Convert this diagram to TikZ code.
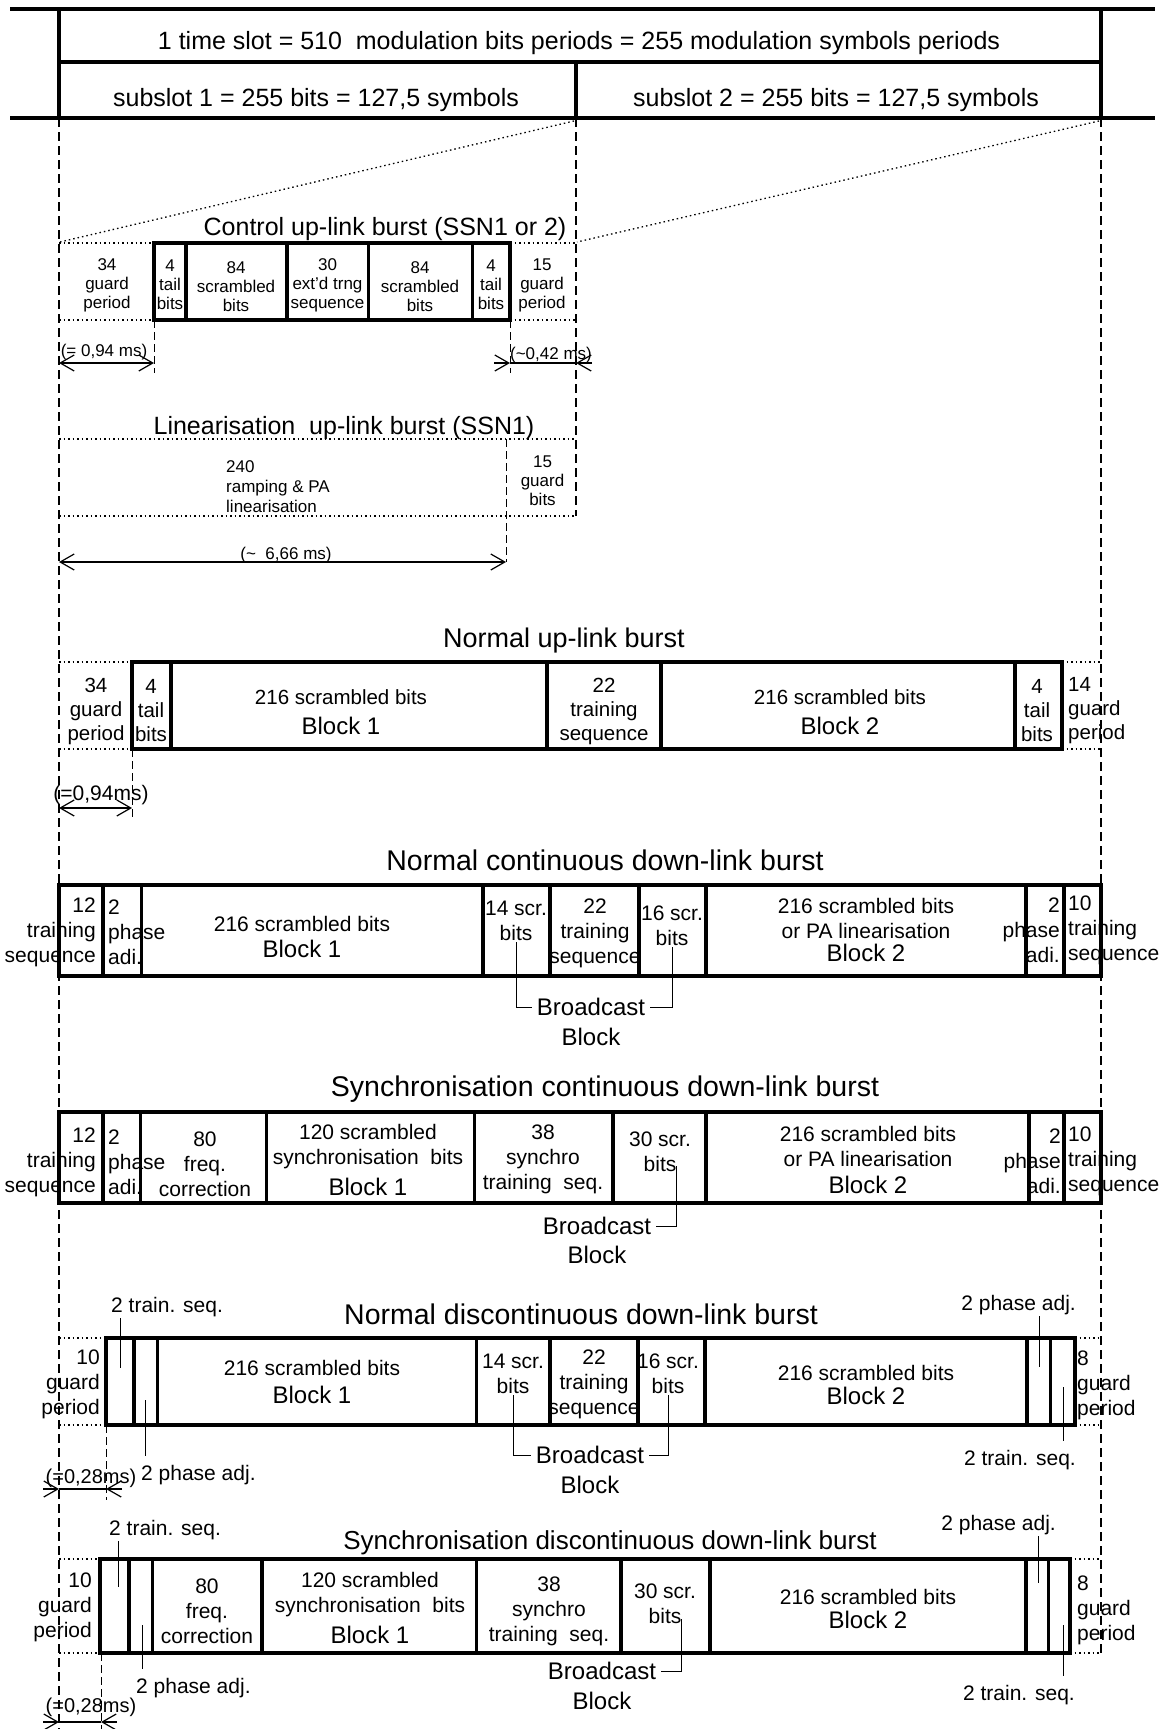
\documentclass[tikz,border=0pt]{standalone}
\usepackage{fontspec}
\setmainfont{Liberation Sans}
\usetikzlibrary{arrows.meta}

\tikzset{
  wall/.style={line width=3.5pt},
  rail/.style={line width=4pt},
  guide/.style={line width=1.3pt, dash pattern=on 9pt off 5pt},
  ext/.style={line width=1pt, dash pattern=on 8pt off 4pt},
  guard/.style={line width=1.3pt, dash pattern=on 1.5pt off 3pt},
  lead/.style={line width=1pt},
  dim/.style={line width=1.2pt},
  dimtip/.tip={Straight Barb[length=14pt, width=16pt]},
  txt/.style={inner sep=1pt, align=center},
  tx/.style={txt, font=\fontsize{21}{25}\selectfont},
  txs/.style={txt, font=\fontsize{17}{19}\selectfont},
  txu/.style={txt, font=\fontsize{20.5}{24}\selectfont},
  blk/.style={txt, font=\fontsize{24}{28}\selectfont},
  ttl/.style={txt, font=\fontsize{28.5}{32}\selectfont},
  big/.style={txt, font=\fontsize{25}{30}\selectfont},
  bcs/.style={inner sep=5pt, font=\fontsize{24}{28}\selectfont},
}

\begin{document}
\begin{tikzpicture}[x=1pt, y=-1pt]
    \useasboundingbox (0,0) rectangle (1164,1729);

    % time slot / subslots
    \draw[rail] (10,9) -- (1155,9);
    \draw[rail] (10,118) -- (1155,118);
    \draw[rail] (59,9) -- (59,118);
    \draw[rail] (1101,9) -- (1101,118);
    \draw[rail] (59,62) -- (1101,62);
    \draw[rail] (576,62) -- (576,118);
    \node[big] (slot) at (579,43) {1 time slot = 510\ \ modulation bits periods = 255 modulation symbols periods};
    \node[big] (sub1) at (316,100) {subslot 1 = 255 bits = 127,5 symbols};
    \node[big] (sub2) at (836,100) {subslot 2 = 255 bits = 127,5 symbols};

    \draw[guide] (59,118) -- (59,1729);
    \draw[guide] (576,118) -- (576,516);
    \draw[guide] (1101,118) -- (1101,1653);
    \draw[guard] (574,121) -- (60,242);
    \draw[guard] (1099,121) -- (577,242);

    % control up-link burst
    \node[big] (cttl) at (385,229) {Control up-link burst (SSN1 or 2)};
    \draw[guard] (59,243) -- (154,243) (59,320) -- (154,320) (510,243) -- (576,243) (510,320) -- (576,320);
    \draw[wall] (154,243) rectangle (510,320);
    \foreach \x in {186,287,368.5,472.5} \draw[wall] (\x,243) -- (\x,320);
    \node[txs] (c34) at (107,285) {34\\guard\\period};
    \node[txs] (c4a) at (170,285) {4\\tail\\bits};
    \node[txs] (c84a) at (236,287) {84\\scrambled\\bits};
    \node[txs] (c30) at (327.5,285) {30\\ext'd trng\\sequence};
    \node[txs] (c84b) at (420,287) {84\\scrambled\\bits};
    \node[txs] (c4b) at (491,285) {4\\tail\\bits};
    \node[txs] (c15) at (542,285) {15\\guard\\period};
    \draw[ext] (154,320) -- (154,373);
    \draw[ext] (510,320) -- (510,373);
    \coordinate (cd1) at (59,363);
    \coordinate (cd2) at (154,363);
    \coordinate (cd3) at (510,363);
    \coordinate (cd4) at (576,363);
    \draw[dim, dimtip-dimtip] (cd1) -- (cd2);
    \node[txs] (cms1) at (104,352) {(= 0,94 ms)};
    \draw[dim] (cd3) -- (cd4);
    \draw[dim, -dimtip] ([xshift=-16pt]cd3) -- (cd3);
    \draw[dim, -dimtip] ([xshift=16pt]cd4) -- (cd4);
    \node[txs] (cms2) at (551,355) {(\textasciitilde 0,42 ms)};

    % linearisation up-link burst
    \node[big] (lttl) at (344,428) {Linearisation\ \ up-link burst (SSN1)};
    \draw[guard] (59,439) -- (576,439) (59,516) -- (576,516);
    \draw[ext] (506,439) -- (506,562);
    \node[txs, align=left, anchor=west, font=\fontsize{17}{20}\selectfont] (l240) at (225,487) {240\\ramping \& PA\\linearisation};
    \node[txs] (l15) at (542.5,481) {15\\guard\\bits};
    \coordinate (ld1) at (59,562);
    \coordinate (ld2) at (506,562);
    \draw[dim, dimtip-dimtip] (ld1) -- (ld2);
    \node[txs, anchor=base] (lms) at (286,559) {(\textasciitilde\ \ 6,66 ms)};

    % normal up-link burst
    \node[ttl, font=\fontsize{27}{32}\selectfont] (nuttl) at (564,641) {Normal up-link burst};
    \draw[guard] (59,662) -- (132,662) (59,749) -- (132,749) (1062,662) -- (1101,662) (1062,749) -- (1101,749);
    \draw[wall] (132,662) rectangle (1062,749);
    \foreach \x in {171,547,661,1015} \draw[wall] (\x,662) -- (\x,749);
    \node[txu] (nu34) at (96,711) {34\\guard\\period};
    \node[txu] (nu4a) at (151,711) {4\\tail\\bits};
    \node[txu] (nu216a) at (341,697) {216 scrambled bits};
    \node[blk] (nub1) at (341,726) {Block 1};
    \node[txu] (nu22) at (604,711) {22\\training\\sequence};
    \node[txu] (nu216b) at (840,697) {216 scrambled bits};
    \node[blk] (nub2) at (840,726) {Block 2};
    \node[txu] (nu4b) at (1037,711) {4\\tail\\bits};
    \node[txu, align=left, anchor=west] (nu14) at (1067,711) {14\\guard\\period};
    \draw[ext] (132,749) -- (132,820);
    \coordinate (nd1) at (59,808);
    \coordinate (nd2) at (132,808);
    \draw[dim, dimtip-dimtip] (nd1) -- (nd2);
    \node[tx] (nums) at (101,795) {(=0,94ms)};

    % normal continuous down-link burst
    \node[ttl] (ncttl) at (605,860) {Normal continuous down-link burst};
    \draw[wall] (59,885) rectangle (1101,976);
    \foreach \x in {103,141.5,483,550,639,706,1026,1064} \draw[wall] (\x,885) -- (\x,976);
    \node[tx, align=right, anchor=east] (nc12) at (97,932) {12\\training\\sequence};
    \node[tx, align=left, anchor=west] (nc2a) at (107,932) {2\\phase\\adi.};
    \node[tx] (nc216a) at (302,924) {216 scrambled bits};
    \node[blk] (ncb1) at (302,949) {Block 1};
    \node[tx] (nc14) at (516,921) {14 scr.\\bits};
    \node[tx] (nc22) at (595,933) {22\\training\\sequence};
    \node[tx] (nc16) at (672,926) {16 scr.\\bits};
    \node[tx] (nc216b) at (866,918) {216 scrambled bits\\or PA linearisation};
    \node[blk] (ncb2) at (866,953) {Block 2};
    \node[tx, align=right, anchor=east] (nc2b) at (1061,930) {2\\phase\\adi.};
    \node[tx, align=left, anchor=west] (nc10) at (1067,930) {10\\training\\sequence};
    \node[bcs] (ncbc) at (591,1007) {Broadcast};
    \node[bcs] (ncbk) at (591,1037) {Block};
    \draw[lead] (nc14.south) |- (ncbc.west);
    \draw[lead] (nc16.south) |- (ncbc.east);

    % synchronisation continuous down-link burst
    \node[ttl] (scttl) at (605,1089) {Synchronisation continuous down-link burst};
    \draw[wall] (59,1112) rectangle (1101,1203);
    \foreach \x in {103,140.5,266.5,474.5,613,706,1029,1064} \draw[wall] (\x,1112) -- (\x,1203);
    \node[tx, align=right, anchor=east] (sc12) at (97,1162) {12\\training\\sequence};
    \node[tx, align=left, anchor=west] (sc2a) at (107,1162) {2\\phase\\adi.};
    \node[tx] (sc80) at (205,1164) {80\\freq.\\correction};
    \node[tx] (sc120) at (368,1147) {120 scrambled\\synchronisation\ \ bits};
    \node[blk] (scb1) at (368,1187) {Block 1};
    \node[tx] (sc38) at (543,1159) {38\\synchro\\training\ \ seq.};
    \node[tx] (sc30) at (660,1152) {30 scr.\\bits};
    \node[tx] (sc216) at (868,1146) {216 scrambled bits\\or PA linearisation};
    \node[blk] (scb2) at (868,1185) {Block 2};
    \node[tx, align=right, anchor=east] (sc2b) at (1062,1161) {2\\phase\\adi.};
    \node[tx, align=left, anchor=west] (sc10) at (1067,1161) {10\\training\\sequence};
    \node[bcs] (scbc) at (597,1226) {Broadcast};
    \node[bcs] (scbk) at (597,1255) {Block};
    \coordinate (sc30l) at (676,1166);
    \draw[lead] (sc30l) |- (scbc.east);

    % normal discontinuous down-link burst
    \node[ttl] (ndttl) at (581,1314) {Normal discontinuous down-link burst};
    \draw[guard] (59,1338) -- (106,1338) (59,1425) -- (106,1425) (1075,1338) -- (1101,1338) (1075,1425) -- (1101,1425);
    \draw[wall] (106,1338) rectangle (1075,1425);
    \foreach \x in {134,157.5,476.5,550,638,705,1027,1050.5} \draw[wall] (\x,1338) -- (\x,1425);
    \node[tx, align=right, anchor=east] (nd10) at (101,1384) {10\\guard\\period};
    \node[tx, anchor=west] (ndtrA) at (110,1307) {2 train. seq.};
    \coordinate (ndtrAe) at (120,1368);
    \draw[lead] (ndtrAe |- ndtrA.south) -- (ndtrAe);
    \node[tx, anchor=west] (ndpaA) at (140,1475) {2 phase adj.};
    \coordinate (ndpaAe) at (145.5,1400);
    \draw[lead, shorten >=8pt] (ndpaAe) -- (ndpaAe |- ndpaA.north);
    \node[tx] (nd216a) at (312,1368) {216 scrambled bits};
    \node[blk] (ndb1) at (312,1395) {Block 1};
    \node[tx] (nd14) at (513,1374) {14 scr.\\bits};
    \node[tx] (nd22) at (594,1384) {22\\training\\sequence};
    \node[tx] (nd16) at (668,1374) {16 scr.\\bits};
    \node[tx] (nd216b) at (866,1373) {216 scrambled bits};
    \node[blk] (ndb2) at (866,1396) {Block 2};
    \node[tx, anchor=east] (ndpaB) at (1077,1305) {2 phase adj.};
    \coordinate (ndpaBe) at (1039,1367);
    \draw[lead] (ndpaBe |- ndpaB.south) -- (ndpaBe);
    \node[tx, anchor=east] (ndtrB) at (1077,1460) {2 train. seq.};
    \coordinate (ndtrBe) at (1063,1387);
    \draw[lead, shorten >=8pt] (ndtrBe) -- (ndtrBe |- ndtrB.north);
    \node[tx, align=left, anchor=west] (nd8) at (1076,1385) {8\\guard\\period};
    \node[bcs] (ndbc) at (590,1455) {Broadcast};
    \node[bcs] (ndbk) at (590,1485) {Block};
    \draw[lead] (nd14.south) |- (ndbc.west);
    \draw[lead] (nd16.south) |- (ndbc.east);
    \draw[ext] (106,1425) -- (106,1500);
    \coordinate (ndd1) at (59,1489);
    \coordinate (ndd2) at (106,1489);
    \draw[dim] (ndd1) -- (ndd2);
    \draw[dim, -dimtip] ([xshift=-16pt]ndd1) -- (ndd1);
    \draw[dim, -dimtip] ([xshift=16pt]ndd2) -- (ndd2);
    \node[tx, font=\fontsize{20}{24}\selectfont] (ndms) at (91,1478) {(=0,28ms)};

    % synchronisation discontinuous down-link burst
    \node[ttl, font=\fontsize{26}{30}\selectfont] (sdttl) at (610,1543) {Synchronisation discontinuous down-link burst};
    \draw[guard] (59,1559) -- (100,1559) (59,1653) -- (100,1653) (1070,1559) -- (1101,1559) (1070,1653) -- (1101,1653);
    \draw[wall] (100,1559) rectangle (1070,1653);
    \foreach \x in {129,152.5,262,476.5,621,710,1026,1048.5} \draw[wall] (\x,1559) -- (\x,1653);
    \node[tx, align=right, anchor=east] (sd10) at (93,1607) {10\\guard\\period};
    \node[tx, anchor=west] (sdtrA) at (108,1530) {2 train. seq.};
    \coordinate (sdtrAe) at (118.5,1587);
    \draw[lead] (sdtrAe |- sdtrA.south) -- (sdtrAe);
    \node[tx, anchor=west] (sdpaA) at (135,1688) {2 phase adj.};
    \coordinate (sdpaAe) at (142.5,1625);
    \draw[lead, shorten >=8pt] (sdpaAe) -- (sdpaAe |- sdpaA.north);
    \node[tx] (sd80) at (207,1611) {80\\freq.\\correction};
    \node[tx] (sd120) at (370,1595) {120 scrambled\\synchronisation\ \ bits};
    \node[blk] (sdb1) at (370,1635) {Block 1};
    \node[tx] (sd38) at (549,1611) {38\\synchro\\training\ \ seq.};
    \node[tx] (sd30) at (665,1604) {30 scr.\\bits};
    \node[tx] (sd216) at (868,1597) {216 scrambled bits};
    \node[blk] (sdb2) at (868,1620) {Block 2};
    \node[tx, anchor=east] (sdpaB) at (1057,1525) {2 phase adj.};
    \coordinate (sdpaBe) at (1038,1583);
    \draw[lead] (sdpaBe |- sdpaB.south) -- (sdpaBe);
    \node[tx, anchor=east] (sdtrB) at (1076,1695) {2 train. seq.};
    \coordinate (sdtrBe) at (1063,1625);
    \draw[lead, shorten >=8pt] (sdtrBe) -- (sdtrBe |- sdtrB.north);
    \node[tx, align=left, anchor=west] (sd8) at (1076,1610) {8\\guard\\period};
    \node[bcs] (sdbc) at (602,1671) {Broadcast};
    \node[bcs] (sdbk) at (602,1701) {Block};
    \coordinate (sd30l) at (681,1619);
    \draw[lead] (sd30l) |- (sdbc.east);
    \draw[ext] (101,1653) -- (101,1729);
    \coordinate (sdd1) at (59,1722);
    \coordinate (sdd2) at (101,1722);
    \draw[dim] (sdd1) -- (sdd2);
    \draw[dim, -dimtip] ([xshift=-16pt]sdd1) -- (sdd1);
    \draw[dim, -dimtip] ([xshift=16pt]sdd2) -- (sdd2);
    \node[tx, font=\fontsize{20}{24}\selectfont] (sdms) at (91,1707) {(=0,28ms)};
\end{tikzpicture}
\end{document}
